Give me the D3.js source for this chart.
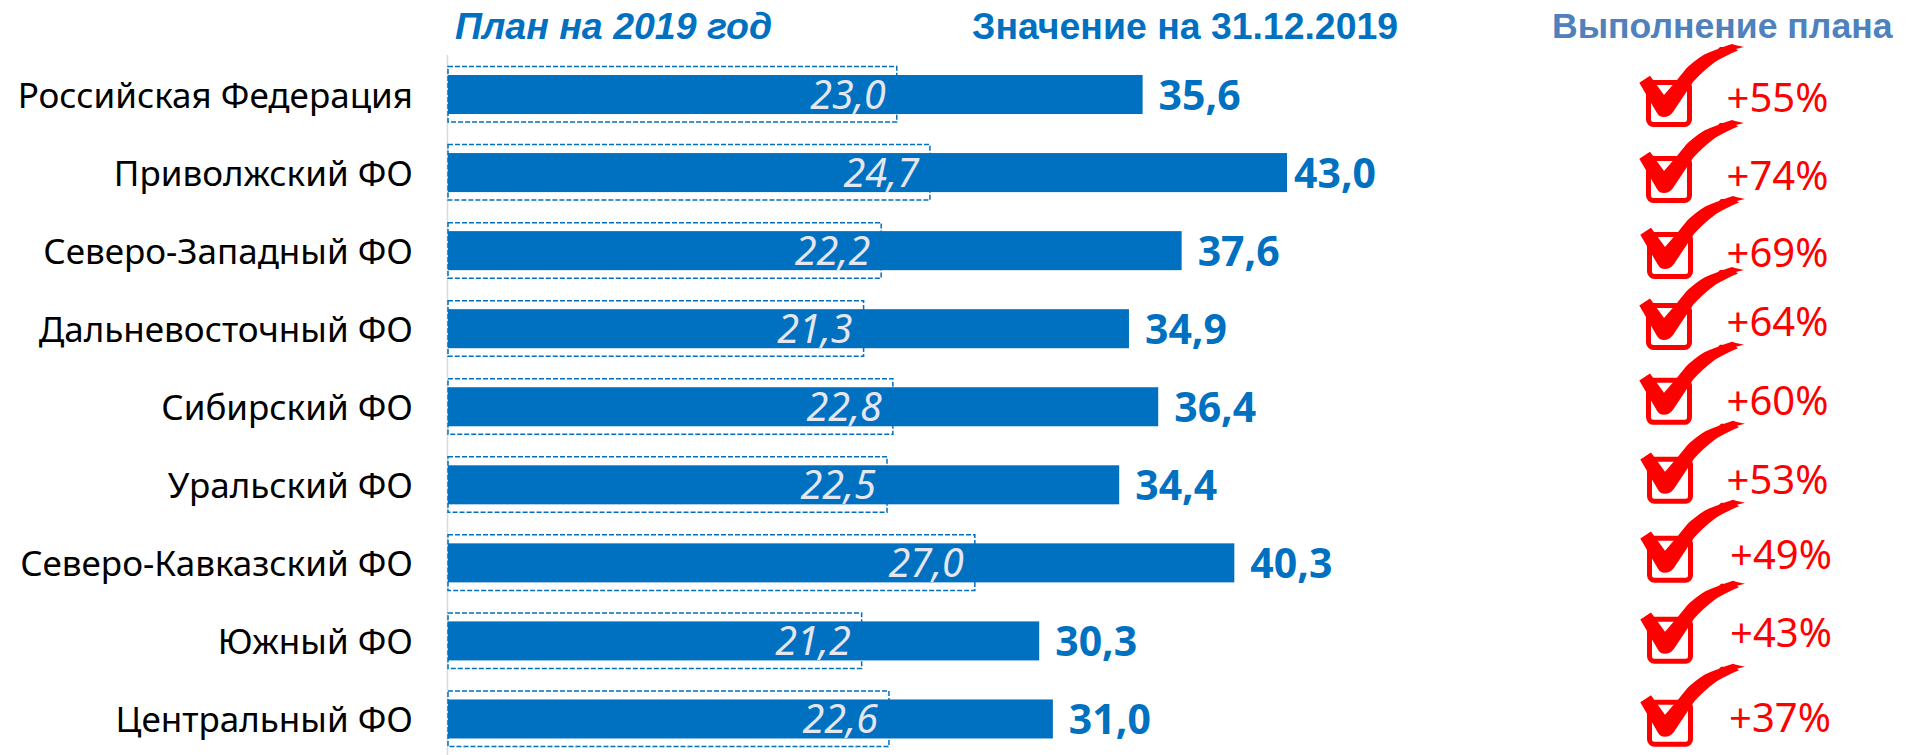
<!DOCTYPE html>
<html><head><meta charset="utf-8">
<style>html,body{margin:0;background:#fff;overflow:hidden}</style>
<script src="https://cdn.jsdelivr.net/npm/d3@7/dist/d3.min.js"></script></head>
<body><svg id="c" width="1918" height="755"></svg>
<script>
const categories=["Российская Федерация","Приволжский ФО","Северо-Западный ФО","Дальневосточный ФО","Сибирский ФО","Уральский ФО","Северо-Кавказский ФО","Южный ФО","Центральный ФО"];
const plan=[23.0,24.7,22.2,21.3,22.8,22.5,27.0,21.2,22.6];
const actual=[35.6,43.0,37.6,34.9,36.4,34.4,40.3,30.3,31.0];
const pct=["+55%","+74%","+69%","+64%","+60%","+53%","+49%","+43%","+37%"];
const headers=["План на 2019 год","Значение на 31.12.2019","Выполнение плана"];
const fmt=v=>v.toFixed(1).replace(".",",");
const svg=d3.select("#c");
const x=d3.scaleLinear().domain([0,43]).range([448,1287]);
const y=d3.scaleBand().domain(categories).range([55.5,758]).paddingInner(0.5).paddingOuter(0.25);
const cy=c=>y(c)+y.bandwidth()/2;
const blue="#0070c0", red="#ff0000";
const sans="'Noto Sans'", arial="'Liberation Sans'";
// hand-placed decorations of the right column (offsets from each row centre)
const markDy=[-14.5,-16.6,-18.7,-25.8,-28.9,-28,-27.1,-24.2,-19.3];
const markX=[1646,1646,1647,1646,1646,1647,1647,1647,1647];
const pctDy=[17.5,17.4,16.3,7.2,8.1,9,5.9,5.8,12.7];
const pctX=[1726.5,1726.5,1726.5,1726.5,1726.5,1726.5,1730,1730,1729];
const valueGap=[16,7,16,16,16,16,16,16,16];
svg.append("line").attr("x1",447.5).attr("x2",447.5).attr("y1",55).attr("y2",755).attr("stroke","#d9d9d9").attr("stroke-width",1.5);
const rows=svg.selectAll(".r").data(categories).join("g");
rows.append("text").attr("x",413).attr("y",c=>cy(c)+13).attr("text-anchor","end")
 .attr("font-family",sans).attr("font-size",35).text(c=>c);
rows.append("rect").attr("x",x(0)).attr("y",c=>y(c)).attr("height",y.bandwidth())
 .attr("width",(c,i)=>x(actual[i])-x(0)).attr("fill",blue);
rows.append("rect").attr("x",x(0)).attr("y",c=>y(c)-8.5).attr("height",y.bandwidth()+16.5)
 .attr("width",(c,i)=>x(plan[i])-x(0)).attr("fill","none").attr("stroke",blue).attr("stroke-width",1.5).attr("stroke-dasharray","5 2");
rows.append("text").attr("x",(c,i)=>x(plan[i])-11).attr("y",c=>cy(c)+14).attr("text-anchor","end")
 .attr("font-family",sans).attr("font-style","italic").attr("font-size",39.5).attr("fill","#e6e6f0").text((c,i)=>fmt(plan[i]));
rows.append("text").attr("x",(c,i)=>x(actual[i])+valueGap[i]).attr("y",c=>cy(c)+15).attr("font-family",sans).attr("font-weight",700).attr("font-size",41).attr("fill",blue).text((c,i)=>fmt(actual[i]));
const checkPath="M-6.7,2.7 L4,-4.3 L18,15 L31,0 C36,-6 40,-12 44,-15 C50,-20 56,-25 64,-28 L72,-31 L74,-33 L77,-33 L86,-36 L89,-35 L98,-33 L90,-31 L92,-29.5 L86,-27 L80,-24 C76,-22 72,-20 69,-18 C60,-11 53,-5 47,2 L27,32 C24,36 21,37 18,37 C15,37 13,36 11,33 Z";
const marks=rows.append("g").attr("transform",(c,i)=>`translate(${markX[i]},${cy(c)+markDy[i]})`);
marks.append("rect").attr("x",2.5).attr("y",2.5).attr("width",41).attr("height",42).attr("rx",5).attr("fill","none").attr("stroke",red).attr("stroke-width",5);
marks.append("path").attr("d",checkPath).attr("fill",red);
rows.append("text").attr("x",(c,i)=>pctX[i]).attr("y",(c,i)=>cy(c)+pctDy[i]).attr("font-family",sans).attr("font-size",40).attr("fill",red).text((c,i)=>pct[i]);
svg.append("text").attr("x",455).attr("y",39).attr("font-family",arial).attr("font-weight",700).attr("font-style","italic").attr("font-size",37.5).attr("fill",blue).text(headers[0]);
svg.append("text").attr("x",972).attr("y",39).attr("font-family",arial).attr("font-weight",700).attr("font-size",37.4).attr("fill",blue).text(headers[1]);
svg.append("text").attr("x",1552).attr("y",37.5).attr("font-family",arial).attr("font-weight",700).attr("font-size",35.6).attr("fill","#4f81bd").text(headers[2]);
</script></body></html>
